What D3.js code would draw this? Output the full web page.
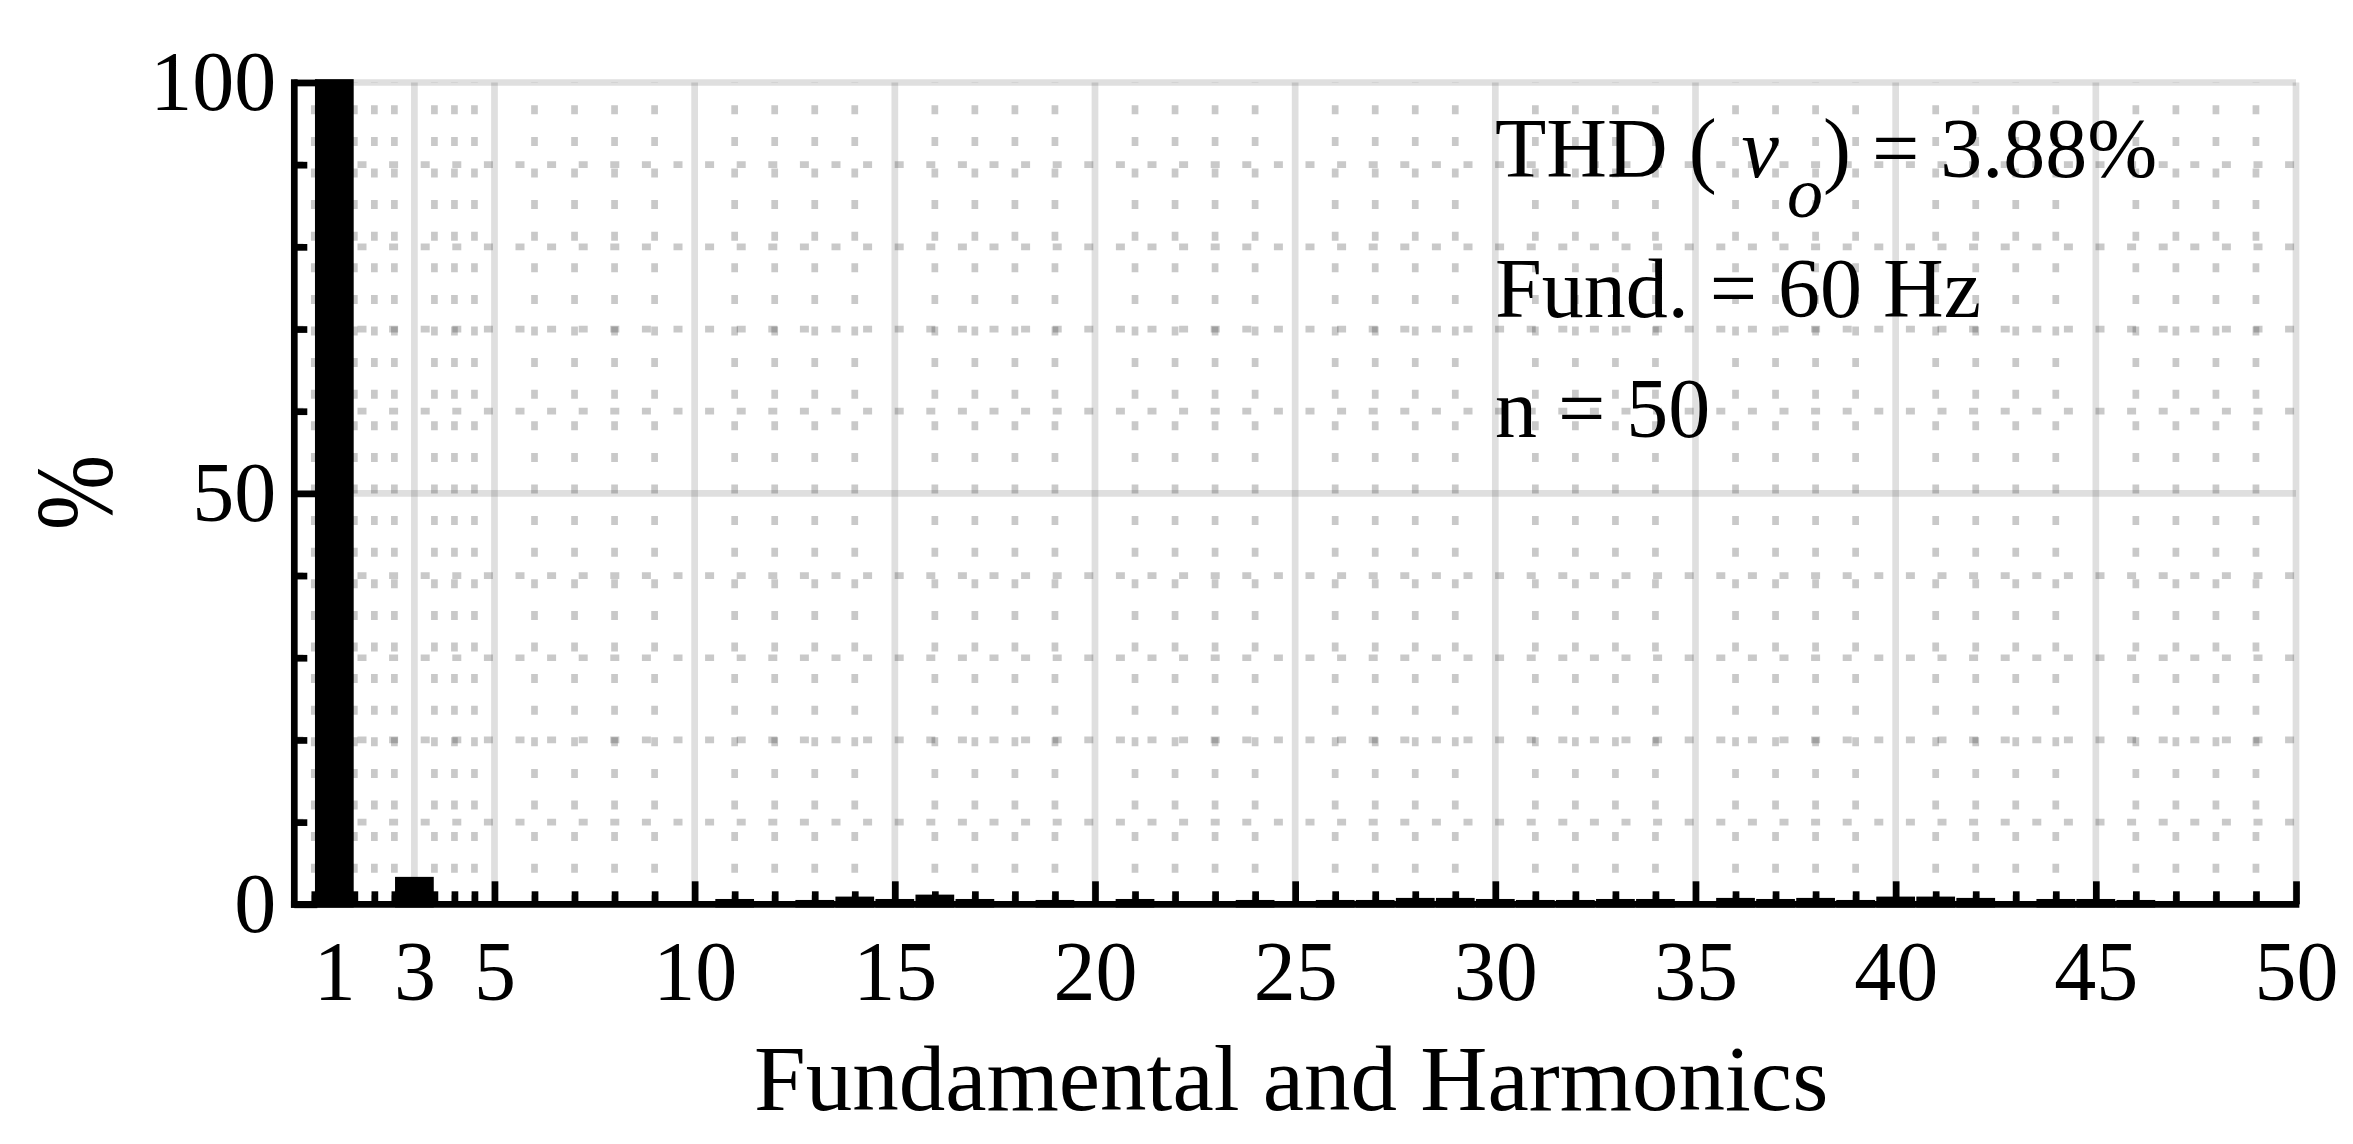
<!DOCTYPE html>
<html>
<head>
<meta charset="utf-8">
<script src="https://cdn.jsdelivr.net/npm/d3@7"></script>
<style>
html, body { margin: 0; padding: 0; background: #fff; }
svg { display: block; }
text { white-space: pre; }
</style>
</head>
<body>
<svg id="chart" width="2353" height="1144"></svg>
<script>
// ---------- data ----------
const harmonics = [1,2,3,4,5,6,7,8,9,10,11,12,13,14,15,16,17,18,19,20,21,22,23,24,25,
                   26,27,28,29,30,31,32,33,34,35,36,37,38,39,40,41,42,43,44,45,46,47,48,49,50];
const magnitudes = [100,0,2.93,0,0,0,0,0,0,0,
                    0.24,0,0.12,0.53,0.24,0.77,0.24,0,0.12,0,
                    0.24,0,0,0.12,0,0.12,0.12,0.37,0.37,0.24,
                    0.12,0.12,0.24,0.24,0,0.37,0.24,0.37,0.12,0.53,
                    0.53,0.37,0,0.24,0.24,0.12,0,0,0,0];
const xMajorTicks = [1,3,5,10,15,20,25,30,35,40,45,50];
const xMinorTicks = [0.5,1.5,2,2.5,3.5,4,4.5,6,7,8,9,11,12,13,14,16,17,18,19,21,22,23,24,
                     26,27,28,29,31,32,33,34,36,37,38,39,41,42,43,44,46,47,48,49];
const yMajorTicks = [0,50,100];
const yMinorTicks = [10,20,30,40,60,70,80,90];
const xAxisTitle = "Fundamental and Harmonics";
const yAxisTitle = "%";
const thdLabel = ["THD ( ", "v", "o", ") = 3.88%"];
const infoLines = ["Fund. = 60 Hz", "n = 50"];

// ---------- setup ----------
const svg = d3.select("#chart");
const x = d3.scaleLinear().domain([0, 50]).range([294.3, 2296]);
const y = d3.scaleLinear().domain([0, 100]).range([904.3, 82.5]);
const LW = 6.7;
const FONT = "'Liberation Serif','Times New Roman',Times,serif";
const gridColor = "rgb(38,38,38)";

svg.append("rect").attr("width", 2353).attr("height", 1144).attr("fill", "#fff");

// ---------- grid ----------
const grid = svg.append("g");
grid.selectAll("line.vminor").data(xMinorTicks).join("line")
  .attr("class", "vminor")
  .attr("x1", d => x(d)).attr("x2", d => x(d))
  .attr("y1", y(0)).attr("y2", y(100))
  .attr("stroke", gridColor).attr("stroke-opacity", 0.25)
  .attr("stroke-width", LW).attr("stroke-dasharray", "9,22.6");
grid.selectAll("line.hminor").data(yMinorTicks).join("line")
  .attr("class", "hminor")
  .attr("x1", x(0)).attr("x2", x(50))
  .attr("y1", d => y(d)).attr("y2", d => y(d))
  .attr("stroke", gridColor).attr("stroke-opacity", 0.25)
  .attr("stroke-width", LW).attr("stroke-dasharray", "9,22.6");
grid.selectAll("line.vmajor").data(xMajorTicks).join("line")
  .attr("class", "vmajor")
  .attr("x1", d => x(d)).attr("x2", d => x(d))
  .attr("y1", y(0)).attr("y2", y(100))
  .attr("stroke", gridColor).attr("stroke-opacity", 0.15)
  .attr("stroke-width", LW);
grid.selectAll("line.hmajor").data(yMajorTicks.filter(d => d > 0)).join("line")
  .attr("class", "hmajor")
  .attr("x1", x(0)).attr("x2", x(50))
  .attr("y1", d => y(d)).attr("y2", d => y(d))
  .attr("stroke", gridColor).attr("stroke-opacity", 0.15)
  .attr("stroke-width", LW);

// ---------- bars ----------
svg.append("clipPath").attr("id", "plotclip")
  .append("rect")
  .attr("x", x(0)).attr("y", y(100) - LW)
  .attr("width", x(50) + LW / 2 - x(0)).attr("height", y(0) - y(100) + LW * 1.5);

const barW = (x(1) - x(0)) * 0.8;
svg.append("g").attr("clip-path", "url(#plotclip)")
  .selectAll("rect.bar").data(harmonics.map((h, i) => ({h, v: magnitudes[i]}))).join("rect")
  .attr("class", "bar")
  .attr("x", d => x(d.h) - barW / 2)
  .attr("width", barW)
  .attr("y", d => y(d.v))
  .attr("height", d => y(0) - y(d.v))
  .attr("fill", "#000").attr("stroke", "#000").attr("stroke-width", LW);

// ---------- axes ----------
function styleAxis(g) {
  g.select(".domain").remove();
  g.selectAll(".tick line").attr("stroke", "#000").attr("stroke-width", LW);
  g.selectAll(".tick text").attr("font-family", FONT).attr("font-size", 84).attr("fill", "#000");
}
const gxMinor = svg.append("g").attr("transform", `translate(0,${y(0)})`)
  .call(d3.axisBottom(x).tickValues(xMinorTicks).tickSize(-13).tickFormat(""));
styleAxis(gxMinor);
const gxMajor = svg.append("g").attr("transform", `translate(0,${y(0)})`)
  .call(d3.axisBottom(x).tickValues(xMajorTicks).tickSize(-23).tickPadding(36).tickFormat(d3.format("d")));
styleAxis(gxMajor);

const gyMinor = svg.append("g").attr("transform", `translate(${x(0)},0)`)
  .call(d3.axisLeft(y).tickValues(yMinorTicks).tickSize(-13).tickFormat(""));
styleAxis(gyMinor);
const gyMajor = svg.append("g").attr("transform", `translate(${x(0)},0)`)
  .call(d3.axisLeft(y).tickValues(yMajorTicks).tickSize(-23).tickPadding(18).tickFormat(d3.format("d")));
styleAxis(gyMajor);

svg.append("line")
  .attr("x1", x(0)).attr("x2", x(0))
  .attr("y1", y(100) - LW / 2).attr("y2", y(0) + LW / 2)
  .attr("stroke", "#000").attr("stroke-width", LW);
svg.append("line")
  .attr("x1", x(0) - LW / 2).attr("x2", x(50) + LW / 2)
  .attr("y1", y(0)).attr("y2", y(0))
  .attr("stroke", "#000").attr("stroke-width", LW);

// ---------- titles ----------
svg.append("text")
  .attr("x", (x(0) + x(50)) / 2 - 4).attr("y", 1110)
  .attr("text-anchor", "middle")
  .attr("font-family", FONT).attr("font-size", 93).attr("fill", "#000")
  .text(xAxisTitle);

svg.append("text")
  .attr("transform", `translate(112,492.5) rotate(-90) scale(0.82,1)`)
  .attr("text-anchor", "middle")
  .attr("font-family", FONT).attr("font-size", 110).attr("fill", "#000")
  .text(yAxisTitle);

// ---------- annotations ----------
const ann = svg.append("text")
  .attr("x", 1495).attr("y", 177)
  .attr("font-family", FONT).attr("font-size", 84).attr("fill", "#000");
ann.append("tspan").text(thdLabel[0]);
ann.append("tspan").attr("font-style", "italic").attr("dx", 4).text(thdLabel[1]);
ann.append("tspan").attr("font-style", "italic").attr("font-size", 72)
  .attr("dx", 8).attr("dy", 40).text(thdLabel[2]);
ann.append("tspan").attr("dy", -40).text(thdLabel[3]);

svg.selectAll("text.info").data(infoLines).join("text")
  .attr("class", "info")
  .attr("x", 1495).attr("y", (d, i) => [316.7, 437][i])
  .attr("font-family", FONT).attr("font-size", 84).attr("fill", "#000")
  .text(d => d);
</script>
</body>
</html>
